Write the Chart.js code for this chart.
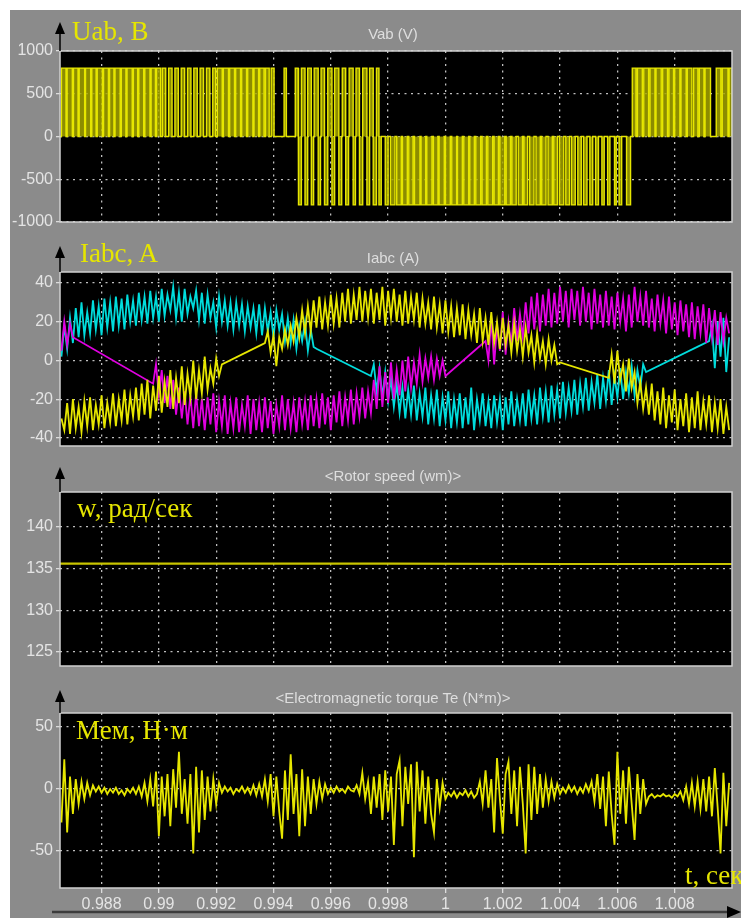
<!DOCTYPE html>
<html>
<head>
<meta charset="utf-8">
<script src="https://cdn.jsdelivr.net/npm/chart.js@4.4.1/dist/chart.umd.min.js"></script>
<style>
body { margin:0; background:#fff; width:741px; height:918px; overflow:hidden; position:relative; font-family:'Liberation Sans', Arial, sans-serif; }
#scope { position:absolute; left:10px; top:10px; width:731px; height:908px; background:#8b8b8b; }
.box { position:absolute; left:0; width:741px; }
.ttl { position:absolute; width:300px; margin-left:-150px; text-align:center; color:#dedede; font-size:15px; line-height:15px; white-space:nowrap; }
.lbl { position:absolute; color:#e6e600; font-family:'Liberation Serif','Times New Roman',serif; font-size:27px; line-height:27px; white-space:nowrap; }
</style>
</head>
<body>
<div id="scope"></div>
<div class="box" style="top:0;height:240px"><canvas id="vab"></canvas></div>
<div class="box" style="top:240px;height:220px"><canvas id="iabc"></canvas></div>
<div class="box" style="top:460px;height:220px"><canvas id="wm"></canvas></div>
<div class="box" style="top:680px;height:238px"><canvas id="te"></canvas></div>

<div class="ttl" style="left:393px;top:26px">Vab (V)</div>
<div class="ttl" style="left:393px;top:250px">Iabc (A)</div>
<div class="ttl" style="left:393px;top:468px">&lt;Rotor speed (wm)&gt;</div>
<div class="ttl" style="left:393px;top:690px">&lt;Electromagnetic torque Te (N*m)&gt;</div>

<div class="lbl" style="left:72px;top:18px">Uab, B</div>
<div class="lbl" style="left:80px;top:240px">Iabc, A</div>
<div class="lbl" style="left:77px;top:495px">w, рад/сек</div>
<div class="lbl" style="left:76px;top:717px">Мем, Н·м</div>
<div class="lbl" style="left:685px;top:862px">t, сек</div>

<script>
// time axis (s)
const xMin = 0.98655, xMax = 1.01;
const xTicks = [0.988, 0.99, 0.992, 0.994, 0.996, 0.998, 1, 1.002, 1.004, 1.006, 1.008];
const xTickLabels = ['0.988', '0.99', '0.992', '0.994', '0.996', '0.998', '1', '1.002', '1.004', '1.006', '1.008'];

// Vab: pulse edges
const vabLevels = [800, -800];
const vabPosOn = [0.98660,0.98680,0.98702,0.98722,0.98744,0.98766,0.98785,0.98807,0.98828,0.98847,0.98869,0.98889,0.98911,0.98930,0.98951,0.98973,0.98992,
  0.99012,0.99034,0.99056,0.99078,0.99100,0.99122,0.99144,0.99166,0.99188,
  0.99204,0.99225,0.99247,0.99268,0.99289,0.99310,0.99332,0.99352,0.99372,
  0.99392,0.99437,0.99476,
  0.99498,0.99520,0.99542,0.99566,0.99590,0.99614,0.99640,0.99664,0.99688,0.99712,0.99736,0.99760,
  1.00652,1.00670,1.00692,1.00714,1.00735,1.00758,1.00780,1.00800,1.00822,1.00844,1.00866,1.00886,1.00906,1.00945,1.00966,1.00990];
const vabPosOff = [0.98676,0.98698,0.98718,0.98741,0.98762,0.98781,0.98803,0.98824,0.98843,0.98865,0.98885,0.98907,0.98926,0.98947,0.98969,0.98988,0.99006,
  0.99024,0.99046,0.99068,0.99090,0.99112,0.99134,0.99156,0.99178,0.99198,
  0.99221,0.99243,0.99264,0.99285,0.99306,0.99328,0.99348,0.99367,0.99385,
  0.99402,0.99445,0.99486,
  0.99510,0.99532,0.99556,0.99578,0.99604,0.99628,0.99652,0.99678,0.99700,0.99726,0.99748,0.99768,
  1.00665,1.00687,1.00709,1.00731,1.00753,1.00775,1.00796,1.00818,1.00840,1.00860,1.00881,1.00902,1.00925,1.00961,1.00986,1.01000];
const vabNegOn = [0.99488,0.99510,0.99532,0.99556,0.99578,0.99604,0.99628,0.99652,0.99678,0.99700,0.99726,0.99748,0.99768,
  0.99790,0.99808,0.99830,0.99850,0.99872,0.99892,0.99915,0.99935,0.99958,0.99978,
  1.00000,1.00022,1.00042,1.00064,1.00085,1.00106,1.00128,1.00148,1.00170,1.00190,
  1.00212,1.00232,1.00254,1.00274,1.00294,1.00316,1.00336,1.00358,1.00378,1.00398,
  1.00420,1.00440,1.00462,1.00482,1.00504,1.00524,1.00546,1.00566,1.00590,1.00606,1.00632];
const vabNegOff = [0.99496,0.99518,0.99540,0.99564,0.99588,0.99612,0.99638,0.99662,0.99686,0.99710,0.99734,0.99758,0.99776,
  0.99800,0.99824,0.99846,0.99867,0.99887,0.99911,0.99931,0.99953,0.99974,0.99996,
  1.00017,1.00039,1.00059,1.00081,1.00101,1.00123,1.00143,1.00165,1.00185,1.00207,
  1.00227,1.00247,1.00269,1.00287,1.00309,1.00331,1.00351,1.00373,1.00391,1.00413,
  1.00433,1.00453,1.00474,1.00494,1.00514,1.00534,1.00554,1.00574,1.00596,1.00615,1.00646];
const vabTicks = [1000, 500, 0, -500, -1000];

// currents and torque, sampled every 0.1 ms (null = straight jump on the scope)
const sampleStart = 0.9866, sampleStep = 0.0001;
const iCyan = [2,18,6,22,9,27,12,30,13,25, 14,31,16,28,13,32,17,30,15,33, 18,32,16,34,20,31,18,35,21,33,
  19,36,22,33,20,37,23,34,26,38, 22,35,20,37,24,33,27,36,21,35, 19,34,22,30,17,33,20,31,18,30,
  16,30,18,29,15,28,17,27,14,29, 13,27,15,25,12,26,16,24,10,22, 9,21,6,18,10,20,5,16,7,6,
  null,null,null,null,null,null,null,null,null,null, null,null,null,null,null,null,null,null, -8,-2,
  -16,-4,-19,-6,-21,-9,-24,-12,-27,-14, -30,-15,-28,-13,-31,-17,-29,-14,-33,-18,
  -30,-15,-34,-19,-31,-16,-35,-20,-32,-17, -35,-19,-33,-14,-36,-20,-31,-17,-34,-21,
  -35,-18,-32,-20,-36,-19,-33,-16,-34,-20, -31,-17,-34,-15,-30,-18,-33,-14,-29,-16,
  -32,-13,-28,-15,-30,-11,-27,-14,-26,-10, -28,-12,-24,-9,-26,-11,-22,-7,-25,-9,
  -21,-5,-23,-8,-19,-4,-20,-6,-17,-3, -18,-5,-14,-2,-6,
  null,null,null,null,null,null,null,null,null,null, null,null,null,null,null,null,null,null,null,null,null,
  10, 18,-4,20,2,22,-6,12];
const iMagenta = [5,20,8,19,12,
  null,null,null,null,null,null,null,null,null,null, null,null,null,null,null,null,null,null,null,null,
  null,null,null,null,null,null,null, -12,
  -2,-18,-5,-22,-8,-25,-10,
  -28,-14,-30,-16,-33,-18,-35,-17,-34,-20, -36,-19,-33,-17,-37,-21,-34,-18,-38,-22,
  -35,-19,-37,-23,-34,-18,-38,-20,-36,-22, -37,-19,-35,-21,-38,-23,-34,-18,-36,-20,
  -35,-22,-37,-19,-33,-21,-36,-18,-34,-20, -35,-17,-33,-19,-36,-18,-32,-16,-34,-19,
  -31,-15,-33,-17,-29,-14,-30,-16,-27,-10, -25,-3,-24,-6,-22,-1,-20,-5,-18,0,
  -16,2,-14,-1,-12,3,-11,1,-9,2, -10,1,-8,0,-8,
  null,null,null,null,null,null,null,null,null,null,null,null,null, 10,
  0,22,-2,18,5,25,3,20,8,27,10,
  24,12,30,14,33,16,35,15,34,18, 37,17,35,19,38,20,36,17,37,21,
  36,18,38,20,35,16,37,19,34,17, 36,18,33,16,35,20,32,15,34,17,
  38,20,33,18,36,17,32,15,34,19, 31,14,33,16,30,13,31,15,29,12,
  30,11,28,14,29,9,27,12,26,8, 25,10,22,14];
const iYellow = [-30,-36,-22,-38,-20,-35,-24,-37,-21,-34, -19,-36,-23,-33,-18,-35,-22,-32,-17,-34,
  -20,-31,-15,-33,-18,-29,-14,-31,-12,-28, -10,-30,-13,-26,-8,-27,-11,-24,-5,-25,
  -9,-22,-3,-23,-7,-19,0,-20,-5,-17, 2,-15,-4,-12,1,-8,-2,
  null,null,null,null,null,null,null,null,null,null,null,null,null,null, 9,
  15,4,13,-3,12,6,16,8, 18,10,22,12,26,14,28,15,31,17,
  33,16,30,18,34,19,32,17,35,20, 37,19,34,21,38,20,36,22,37,19,
  35,21,38,18,36,22,37,20,34,18, 36,19,33,21,35,17,32,19,30,16,
  33,17,29,14,31,15,28,12,27,13, 29,11,26,13,24,9,27,10,22,8,
  25,9,20,6,22,8,18,4,19,5, 16,2,17,4,13,-1,14,1,10,-2,
  11,0,8,-2,-1,
  null,null,null,null,null,null,null,null,null,null,null,null,null,null,null,null, -9,
  3,-12,5,-10,-2,-16,1,-14,
  -6,-22,-11,-25,-14,-28,-12,-31,-16,-33, -14,-35,-18,-32,-15,-36,-20,-34,-17,-37,
  -19,-35,-16,-36,-21,-33,-18,-37,-22,-35, -20,-38,-24,-36];
const iTicks = [40, 20, 0, -20, -40];

// rotor speed (rad/s)
const wmTimes = [0.98655, 0.992, 0.998, 1.004, 1.01];
const wmValues = [135.6, 135.6, 135.6, 135.55, 135.55];
const wmTicks = [140, 135, 130, 125];

// electromagnetic torque (N*m)
const teValues = [-27,24,-35,10,-20,8,-12,6,-8,5,-5,3,
  -2,2,-3,1,-4,0,-3,1,-4,-1,-5,0,-3,1,-4,2,
  -6,5,-10,8,-14,14,
  -38,10,-22,12,-30,16,-15,30,-20,8,-28,12,-52,18,-35,
  15,-25,10,-18,8,-12,5,
  -3,2,-2,1,-4,0,-2,2,-3,1,-4,3,-5,4,-6,
  8,-10,12,-22,10,-18,
  -40,15,-25,28,-20,12,-38,16,-30,10,
  -20,8,-12,6,-8,4,-4,
  1,-3,2,-2,0,-3,2,-1,-2,3,-4,
  13,-8,6,-20,10,-15,
  12,-25,15,-18,10,-45,12,23,-30,18,-12,20,-55,22,-18,15,-28,10,-20,-35,8,-15,5,-8,
  -3,-6,-2,-7,-3,-5,-1,-6,-2,-7,-4,
  6,-12,15,-15,8,-35,
  25,-8,-36,12,22,-20,15,-30,18,-12,-52,20,-25,18,-20,12,
  -15,8,-10,6,-7,4,-4,
  1,-3,3,-2,2,-4,1,-3,4,-2,
  6,-10,12,-16,10,-30,14,-20,
  -45,30,-20,15,-28,18,-12,-41,12,-20,8,-12,
  -6,-4,-7,-5,-6,-4,-6,-5,-7,-4,-6,
  -2,-9,2,-12,5,-14,6,-16,8,-18,
  10,-22,17,-15,-52,13,-30,5];
const teTicks = [50, 0, -50];

const YELLOW = '#e6e600', CYAN = '#00dcdc', MAGENTA = '#e000e0';
const gridColor = 'rgba(225,225,225,0.85)';
const tickColor = '#e4e4e4';
const tickFont = { family: "'Liberation Sans', Arial, sans-serif", size: 16 };

function sampled(values) {
    return values.map(function(v, k) { return { x: sampleStart + k * sampleStep, y: v }; });
}

// each pulse becomes a closed rectangle on the zero line
function vabPoints() {
    var pulses = [];
    vabPosOn.forEach(function(t, i) { pulses.push([t, vabPosOff[i], vabLevels[0]]); });
    vabNegOn.forEach(function(t, i) { pulses.push([t, vabNegOff[i], vabLevels[1]]); });
    pulses.sort(function(a, b) { return a[0] - b[0]; });
    var pts = [{ x: xMin, y: 0 }];
    pulses.forEach(function(p) {
        pts.push({ x: p[0], y: 0 });
        pts.push({ x: p[0], y: p[2] });
        pts.push({ x: p[1], y: p[2] });
        pts.push({ x: p[1], y: 0 });
    });
    pts.push({ x: xMax, y: 0 });
    return pts;
}

// black plot area, light frame, the axis arrows
const scopePlugin = {
    id: 'scope',
    beforeDraw(chart) {
        const a = chart.chartArea, ctx = chart.ctx;
        ctx.save();
        ctx.fillStyle = '#000';
        ctx.fillRect(a.left, a.top, a.right - a.left, a.bottom - a.top);
        ctx.restore();
    },
    afterDraw(chart, args, opts) {
        const a = chart.chartArea, ctx = chart.ctx;
        ctx.save();
        ctx.strokeStyle = '#cfcfcf';
        ctx.lineWidth = 1.5;
        ctx.strokeRect(a.left, a.top, a.right - a.left, a.bottom - a.top);

        ctx.strokeStyle = '#000';
        ctx.fillStyle = '#000';
        ctx.beginPath();
        ctx.moveTo(a.left, opts.arrowTip + 8);
        ctx.lineTo(a.left, a.top);
        ctx.stroke();
        ctx.beginPath();
        ctx.moveTo(a.left, opts.arrowTip);
        ctx.lineTo(a.left - 5, opts.arrowTip + 12);
        ctx.lineTo(a.left + 5, opts.arrowTip + 12);
        ctx.closePath();
        ctx.fill();

        if (opts.timeArrowY) {
            const y = opts.timeArrowY, w = chart.width;
            ctx.strokeStyle = '#3c3c3c';
            ctx.lineWidth = 2.5;
            ctx.beginPath();
            ctx.moveTo(52, y);
            ctx.lineTo(w - 10, y);
            ctx.stroke();
            ctx.beginPath();
            ctx.moveTo(w, y);
            ctx.lineTo(w - 14, y - 6);
            ctx.lineTo(w - 14, y + 6);
            ctx.closePath();
            ctx.fill();
        }
        ctx.restore();
    }
};

function xScale(showLabels, height) {
    return {
        type: 'linear', min: xMin, max: xMax,
        afterBuildTicks: function(s) { s.ticks = xTicks.map(function(v) { return { value: v }; }); },
        afterFit: function(s) { s.height = height; },
        grid: { color: gridColor, lineWidth: 1.3, drawTicks: showLabels, tickLength: 5, tickColor: '#dcdcdc', tickBorderDash: [] },
        border: { display: false, dash: [2, 4.5] },
        ticks: { display: showLabels, autoSkip: false, maxRotation: 0, color: tickColor, font: tickFont, padding: 2,
                 callback: function(v, i) { return xTickLabels[i]; } }
    };
}

function yScale(min, max, ticks) {
    return {
        min: min, max: max,
        afterBuildTicks: function(s) { s.ticks = ticks.map(function(v) { return { value: v }; }); },
        afterFit: function(s) { s.width = 60; },
        grid: { color: gridColor, lineWidth: 1.3, tickLength: 4, tickColor: '#dcdcdc', tickBorderDash: [] },
        border: { display: false, dash: [2, 4.5] },
        ticks: { color: tickColor, font: tickFont, padding: 3, autoSkip: false,
                 callback: function(v) { return String(v); } }
    };
}

function scope(id, datasets, y, x, pad, scopeOpts) {
    return new Chart(document.getElementById(id), {
        type: 'line',
        data: { datasets: datasets },
        options: {
            animation: false,
            responsive: true,
            maintainAspectRatio: false,
            events: [],
            layout: { padding: pad },
            elements: { point: { radius: 0 }, line: { tension: 0 } },
            plugins: { legend: { display: false }, tooltip: { enabled: false }, scope: scopeOpts },
            scales: { x: x, y: y }
        },
        plugins: [scopePlugin]
    });
}

scope('vab', [{
    data: vabPoints(), borderColor: YELLOW, borderWidth: 1.4,
    fill: 'origin', backgroundColor: 'rgba(165,165,0,0.85)'
}], yScale(-1000, 1000, vabTicks), xScale(false, 18), { top: 51, right: 9, bottom: 0, left: 0 }, { arrowTip: 22 });

scope('iabc', [
    { data: sampled(iYellow), borderColor: YELLOW, borderWidth: 1.8, spanGaps: true, order: 0 },
    { data: sampled(iMagenta), borderColor: MAGENTA, borderWidth: 1.8, spanGaps: true, order: 1 },
    { data: sampled(iCyan), borderColor: CYAN, borderWidth: 1.8, spanGaps: true, order: 2 }
], yScale(-44.2, 45.7, iTicks), xScale(false, 14), { top: 32, right: 9, bottom: 0, left: 0 }, { arrowTip: 6 });

scope('wm', [{
    data: wmTimes.map(function(t, i) { return { x: t, y: wmValues[i] }; }),
    borderColor: '#c8c400', borderWidth: 2.2
}], yScale(123.3, 144.2, wmTicks), xScale(false, 14), { top: 32, right: 9, bottom: 0, left: 0 }, { arrowTip: 7 });

scope('te', [{
    data: sampled(teValues), borderColor: YELLOW, borderWidth: 1.8
}], yScale(-79.8, 61.3, teTicks), xScale(true, 30), { top: 33, right: 9, bottom: 0, left: 0 }, { arrowTip: 10, timeArrowY: 232 });
</script>
</body>
</html>
